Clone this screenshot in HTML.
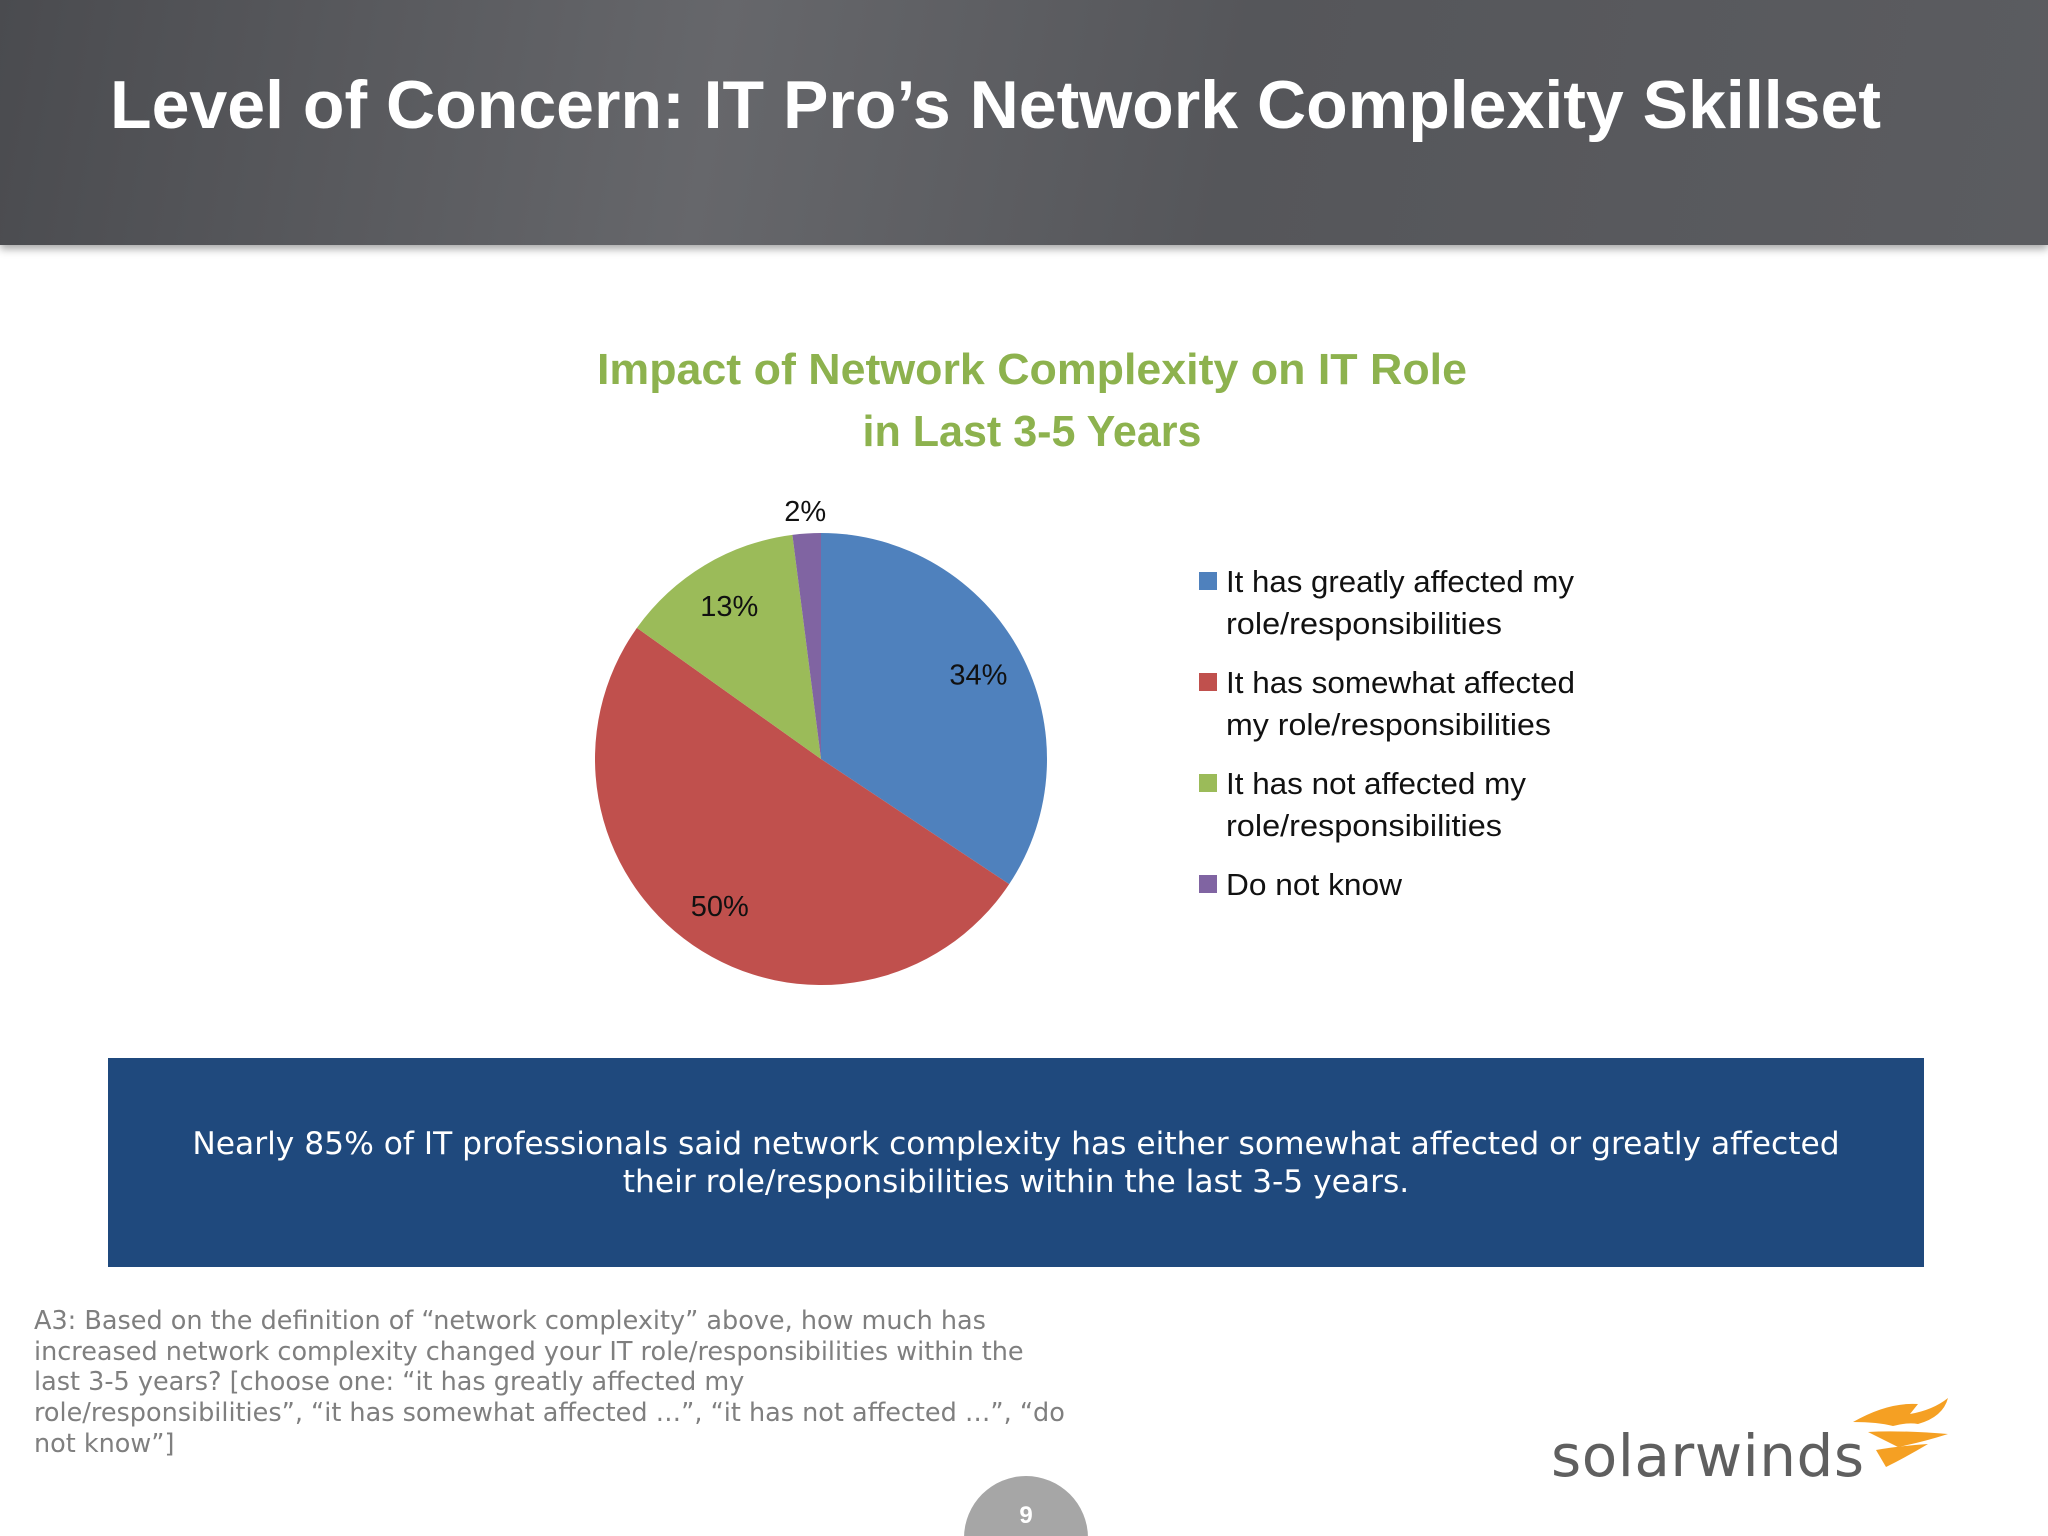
<!DOCTYPE html>
<html><head><meta charset="utf-8">
<style>
html,body{margin:0;padding:0;width:2048px;height:1536px;overflow:hidden;}
body{position:relative;background:#fff;font-family:"Liberation Sans","DejaVu Sans",sans-serif;}
#header{position:absolute;left:0;top:0;width:2048px;height:245px;background:linear-gradient(100deg,#4a4b4f 0%,#66676b 35%,#55565a 60%,#5b5c60 100%);box-shadow:0 4px 8px rgba(0,0,0,0.35);}
#callout{position:absolute;left:108px;top:1058px;width:1816px;height:209px;background:#1f497d;color:#fff;font-family:"DejaVu Sans",sans-serif;font-size:31.3px;line-height:38px;text-align:center;}
#callout div{position:absolute;left:0;right:0;top:67px;}
#footnote{position:absolute;left:34px;top:1306px;width:1100px;color:#7f7f7f;font-family:"DejaVu Sans",sans-serif;font-size:25.5px;line-height:30.7px;white-space:nowrap;}
#logo-text{position:absolute;left:1551px;top:1422px;font-family:"DejaVu Sans",sans-serif;font-size:58px;color:#5f5f5f;letter-spacing:0.5px;}
#page-num{position:absolute;left:964px;top:1476px;width:124px;height:124px;border-radius:50%;background:#a6a6a6;color:#fff;font-size:24px;text-align:center;line-height:80px;font-weight:bold;}
</style></head><body>
<div id="header"></div>
<svg id="pie" width="2048" height="1536" style="position:absolute;left:0;top:0">
<text x="110" y="128" font-family="Liberation Sans, sans-serif" font-weight="bold" font-size="68" fill="#fff" textLength="1771" lengthAdjust="spacingAndGlyphs">Level of Concern: IT Pro’s Network Complexity Skillset</text>
<text x="1032" y="384" text-anchor="middle" font-family="Liberation Sans, sans-serif" font-weight="bold" font-size="44" fill="#8db24e" textLength="870" lengthAdjust="spacingAndGlyphs">Impact of Network Complexity on IT Role</text>
<text x="1032" y="446" text-anchor="middle" font-family="Liberation Sans, sans-serif" font-weight="bold" font-size="44" fill="#8db24e" textLength="339" lengthAdjust="spacingAndGlyphs">in Last 3-5 Years</text>
</svg>
<div id="callout"><div>Nearly 85% of IT professionals said network complexity has either somewhat affected or greatly affected<br>their role/responsibilities within the last 3-5 years.</div></div>
<div id="footnote">A3: Based on the definition of “network complexity” above, how much has<br>increased network complexity changed your IT role/responsibilities within the<br>last 3-5 years? [choose one: “it has greatly affected my<br>role/responsibilities”, “it has somewhat affected …”, “it has not affected …”, “do<br>not know”]</div>
<div id="logo-text">solarwinds</div>
<svg width="110" height="90" style="position:absolute;left:1848px;top:1392px" viewBox="0 0 110 90">
<path d="M5 30 Q40 10 70 12 L62 22 Q85 18 100 6 Q95 25 70 32 Q60 30 45 34 Q30 30 5 30Z" fill="#f5a023"/>
<path d="M20 40 Q50 38 100 42 Q75 50 50 55 Q40 50 20 40Z" fill="#f5a023"/>
<path d="M28 58 Q50 54 80 52 Q60 64 38 75 Z" fill="#f5a023"/>
</svg>
<div id="page-num">9</div>
<script>
const categories=["It has greatly affected my role/responsibilities","It has somewhat affected my role/responsibilities","It has not affected my role/responsibilities","Do not know"];
const legendLines=[["It has greatly affected my","role/responsibilities"],["It has somewhat affected","my role/responsibilities"],["It has not affected my","role/responsibilities"],["Do not know"]];
const legendWidths=[[348,276],[349,325],[300,276],[176]];
const values=[34,50,13,2];
const colors=["#4f81bd","#c0504d","#9bbb59","#8064a2"];
const cx=821,cy=759,R=226;
const svg=document.getElementById('pie');
const NS="http://www.w3.org/2000/svg";
const total=values.reduce((a,b)=>a+b,0);
function ang(v){return v/total*2*Math.PI;}
function pt(a,r){return [cx+r*Math.sin(a),cy-r*Math.cos(a)];}
let a0=0;
values.forEach((v,i)=>{
  const a1=a0+ang(v);
  const p0=pt(a0,R),p1=pt(a1,R);
  const large=(a1-a0)>Math.PI?1:0;
  const path=document.createElementNS(NS,'path');
  path.setAttribute('d',`M${cx},${cy} L${p0[0]},${p0[1]} A${R},${R} 0 ${large} 1 ${p1[0]},${p1[1]} Z`);
  path.setAttribute('fill',colors[i]);
  
  
  svg.appendChild(path);
  const mid=(a0+a1)/2;
  const small=v/total<0.05;
  const lp=pt(mid,small?R*1.1:R*0.79);
  const t=document.createElementNS(NS,'text');
  t.setAttribute('x',lp[0]);t.setAttribute('y',lp[1]+10);
  t.setAttribute('text-anchor','middle');
  t.setAttribute('font-size','29');
  t.setAttribute('font-family','Liberation Sans, sans-serif');
  t.setAttribute('fill','#111');
  t.textContent=v+'%';
  
  
  svg.appendChild(t);
  a0=a1;
});
let y=581;
legendLines.forEach((lines,i)=>{
  const g=document.createElementNS(NS,'g');
  
  
  const r=document.createElementNS(NS,'rect');
  r.setAttribute('x',1199);r.setAttribute('y',y-9);r.setAttribute('width',18);r.setAttribute('height',18);
  r.setAttribute('fill',colors[i]);
  g.appendChild(r);
  lines.forEach((ln,j)=>{
    const t=document.createElementNS(NS,'text');
    t.setAttribute('x',1226);t.setAttribute('y',y+11+j*42);
    t.setAttribute('font-size','31');
    t.setAttribute('font-family','Liberation Sans, sans-serif');
    t.setAttribute('fill','#111');
    t.setAttribute('textLength',legendWidths[i][j]);
    t.setAttribute('lengthAdjust','spacingAndGlyphs');
    t.textContent=ln;
    g.appendChild(t);
  });
  svg.appendChild(g);
  y+=lines.length*42+17;
});
</script>
</body></html>
